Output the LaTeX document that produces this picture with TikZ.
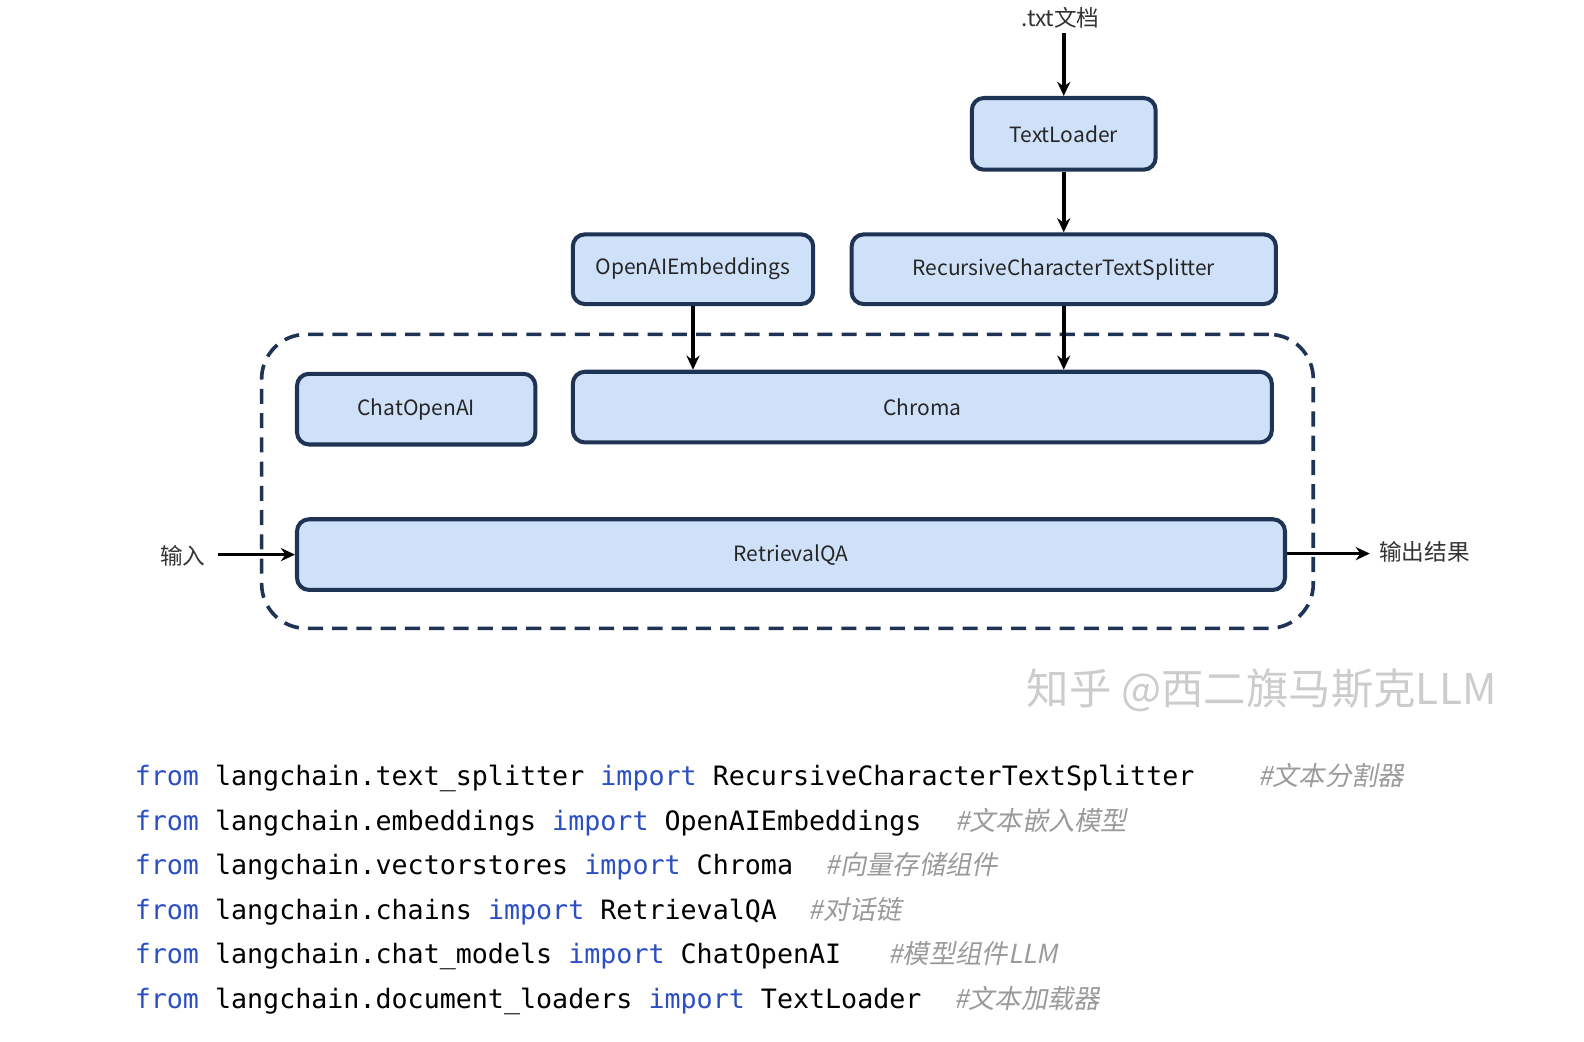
\documentclass[tikz,border=0pt]{standalone}
\usepackage{fontspec}
\usetikzlibrary{arrows.meta}
\setmainfont{Noto Sans CJK SC}
\newfontfamily\cjk{Noto Sans CJK SC}
\newfontfamily\cjkit[FakeSlant=0.2]{Noto Sans CJK SC}
\setmonofont{DejaVu Sans Mono}
\definecolor{boxfill}{HTML}{CFE1F8}
\definecolor{boxline}{HTML}{1F3354}
\definecolor{kwblue}{HTML}{2B4FC2}
\definecolor{cmtgray}{HTML}{9A9A9A}
\newcommand{\kw}[1]{\textcolor{kwblue}{#1}}
\tikzset{
  box/.style={draw=boxline, line width=2pt, fill=boxfill, rounded corners=6pt, font=\cjk\fontsize{10.4}{13}\selectfont, text=black!85},
  lbl/.style={font=\cjk\fontsize{11.2}{13}\selectfont, text=black!80, inner sep=0pt},
  arr/.style={draw=black, line width=1.8pt, -{Stealth[length=7pt,width=6.5pt]}},
  group/.style={draw=boxline, line width=1.8pt, dash pattern=on 7.5pt off 4.5pt, rounded corners=22pt, minimum width=520.5pt, minimum height=145.5pt},
  code/.style={font=\ttfamily\fontsize{13.2}{15}\selectfont, anchor=base west, inner sep=0pt, text=black},
  cmt/.style={font=\cjkit\fontsize{13}{15}\selectfont, anchor=base west, inner sep=0pt, text=cmtgray},
  wm/.style={font=\cjk\fontsize{21}{24}\selectfont, text=black!20, inner sep=0pt}
}
\begin{document}
\begin{tikzpicture}[x=0.5pt,y=-0.5pt]
\useasboundingbox (0,0) rectangle (1568,1031);
% group
\node[group] (grp) at (779.5,476.5) {};
% boxes
\node[box, minimum width=91pt, minimum height=35.5pt] (tl) at (1053,132.5) {TextLoader};
\node[box, minimum width=119pt, minimum height=34.5pt] (oe) at (686,266.5) {OpenAIEmbeddings};
\node[box, minimum width=210pt, minimum height=34.5pt] (rcts) at (1053,266.5) {RecursiveCharacterTextSplitter};
\node[box, minimum width=118pt, minimum height=35pt] (chat) at (412,405) {ChatOpenAI};
\node[box, minimum width=346pt, minimum height=35pt] (chroma) at (913,403) {Chroma};
\node[box, minimum width=489pt, minimum height=35pt] (rqa) at (783,549) {RetrievalQA};
% labels
\node[lbl] (txt) at (1050,18) {.txt文档};
\node[lbl] (in) at (181,550) {输入};
\node[lbl] (out) at (1410,546) {输出结果};
% arrows
\draw[arr] (txt.south -| tl.north) ++(0,4) -- (tl.north);
\draw[arr] (tl.south) -- (rcts.north);
\draw[arr] (oe.south) -- (oe.south |- chroma.north);
\draw[arr] (rcts.south) -- (rcts.south |- chroma.north);
\draw[arr] (in.east |- rqa.west) ++(12,0) -- (rqa.west);
\coordinate (outend) at (1356,548);
\draw[arr] (rqa.east |- outend) -- (outend);
% watermark
\node[wm] (wmk) at (1249,683) {知乎 @西二旗马斯克LLM};
% code
\node[code] (c1) at (133,778) {\kw{from} langchain.text\_splitter \kw{import} RecursiveCharacterTextSplitter};
\node[code] (c2) at (133,822) {\kw{from} langchain.embeddings \kw{import} OpenAIEmbeddings};
\node[code] (c3) at (133,866) {\kw{from} langchain.vectorstores \kw{import} Chroma};
\node[code] (c4) at (133,910) {\kw{from} langchain.chains \kw{import} RetrievalQA};
\node[code] (c5) at (133,954) {\kw{from} langchain.chat\_models \kw{import} ChatOpenAI};
\node[code] (c6) at (133,998) {\kw{from} langchain.document\_loaders \kw{import} TextLoader};
\node[cmt] (m1) at (1245,778) {\#文本分割器};
\node[cmt] (m2) at (945,822) {\#文本嵌入模型};
\node[cmt] (m3) at (817,866) {\#向量存储组件};
\node[cmt] (m4) at (800,910) {\#对话链};
\node[cmt] (m5) at (879,954) {\#模型组件LLM};
\node[cmt] (m6) at (944,998) {\#文本加载器};
\end{tikzpicture}
\end{document}
